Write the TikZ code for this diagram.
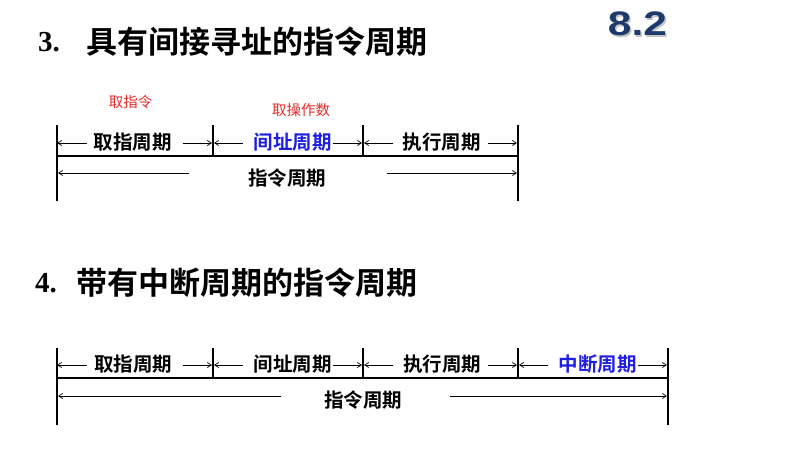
\documentclass[tikz,border=0pt]{standalone}
\usepackage{fontspec}
\usetikzlibrary{arrows.meta}
\newfontfamily\cjk{Noto Sans CJK SC}
\newfontfamily\cjkbold{Noto Sans CJK SC Bold}
\newfontfamily\serifb{Liberation Serif}
\newfontfamily\arialf{Liberation Sans}
\definecolor{lblblue}{RGB}{30,30,225}
\definecolor{lblred}{RGB}{232,40,40}
\definecolor{numblue}{RGB}{30,58,108}
\tikzset{
  seglabel/.style={inner sep=0pt, font=\cjkbold\fontsize{19.5}{20}\selectfont},
  titlecjk/.style={inner sep=0pt, anchor=west, font=\cjkbold\fontsize{31}{32}\selectfont},
  titlenum/.style={inner sep=0pt, anchor=west, font=\serifb\bfseries\fontsize{29}{30}\selectfont},
  note/.style={inner sep=0pt, text=lblred, font=\cjk\fontsize{14.5}{15}\selectfont},
  numstyle/.style={inner sep=0pt, font=\arialf\bfseries\fontsize{34}{34}\selectfont},
  thickline/.style={line width=2.4pt},
  divline/.style={line width=2pt},
  arr/.style={line width=0.7pt, -{Straight Barb[length=4pt,width=5pt]}},
}
\begin{document}
\begin{tikzpicture}[x=1pt,y=-1pt]
\useasboundingbox (0,0) rectangle (789,465);

% heading number
\node[numstyle, text=gray!45] (numsh) at (639,25.5) {\scalebox{1.25}[1]{8.2}};
\node[numstyle, text=numblue] (num) at (637.5,24) {\scalebox{1.25}[1]{8.2}};

% ===== section 3 =====
\node[titlenum] (t3n) at (38,42) {3.};
\node[titlecjk] (t3) at (86,42) {具有间接寻址的指令周期};
\node[note] (n1) at (130.5,101.5) {取指令};
\node[note] (n2) at (301,110) {取操作数};

\coordinate (a0t) at (57,125); \coordinate (a0b) at (57,201); \coordinate (a0m) at (57,156);
\coordinate (a1t) at (213,125); \coordinate (a1m) at (213,156);
\coordinate (a2t) at (363,125); \coordinate (a2m) at (363,156);
\coordinate (a3t) at (518,125); \coordinate (a3b) at (518,201); \coordinate (a3m) at (518,156);

\draw[thickline] (a0t) -- (a0b);
\draw[thickline] (a3t) -- (a3b);
\draw[divline] (a1t) -- (a1m);
\draw[divline] (a2t) -- (a2m);
\draw[thickline] (a0m) -- (a3m);

\node[seglabel] (s1) at (132.5,142) {取指周期};
\node[seglabel, text=lblblue] (s2) at (292.5,142) {间址周期};
\node[seglabel] (s3) at (441.5,142) {执行周期};
\node[seglabel] (sall) at (287,178) {指令周期};

\coordinate (p1l) at (87,143); \coordinate (q1l) at (57,143);
\coordinate (p1r) at (183,143); \coordinate (q1r) at (212,143);
\coordinate (p2l) at (243,143); \coordinate (q2l) at (214,143);
\coordinate (p2r) at (333,143); \coordinate (q2r) at (362,143);
\coordinate (p3l) at (393,143); \coordinate (q3l) at (364,143);
\coordinate (p3r) at (488,143); \coordinate (q3r) at (517,143);
\draw[arr] (p1l) -- (q1l);
\draw[arr] (p1r) -- (q1r);
\draw[arr] (p2l) -- (q2l);
\draw[arr] (p2r) -- (q2r);
\draw[arr] (p3l) -- (q3l);
\draw[arr] (p3r) -- (q3r);
\coordinate (bl1) at (189,173); \coordinate (bl0) at (58,173);
\coordinate (br1) at (387,173); \coordinate (br0) at (517,173);
\draw[arr] (bl1) -- (bl0);
\draw[arr] (br1) -- (br0);

% ===== section 4 =====
\node[titlenum] (t4n) at (35,283) {4.};
\node[titlecjk] (t4) at (76,283) {带有中断周期的指令周期};

\coordinate (b0t) at (57,348); \coordinate (b0b) at (57,425); \coordinate (b0m) at (57,378);
\coordinate (b1t) at (213,348); \coordinate (b1m) at (213,378);
\coordinate (b2t) at (363,348); \coordinate (b2m) at (363,378);
\coordinate (b3t) at (518,348); \coordinate (b3m) at (518,378);
\coordinate (b4t) at (668,348); \coordinate (b4b) at (668,425); \coordinate (b4m) at (668,378);

\draw[thickline] (b0t) -- (b0b);
\draw[thickline] (b4t) -- (b4b);
\draw[divline] (b1t) -- (b1m);
\draw[divline] (b2t) -- (b2m);
\draw[divline] (b3t) -- (b3m);
\draw[thickline] (b0m) -- (b4m);

\node[seglabel] (u1) at (133,364) {取指周期};
\node[seglabel] (u2) at (292.5,364) {间址周期};
\node[seglabel] (u3) at (442,364) {执行周期};
\node[seglabel, text=lblblue] (u4) at (597.5,364) {中断周期};
\node[seglabel] (uall) at (363,400) {指令周期};

\coordinate (r1l) at (87,365); \coordinate (w1l) at (57,365);
\coordinate (r1r) at (183,365); \coordinate (w1r) at (212,365);
\coordinate (r2l) at (243,365); \coordinate (w2l) at (214,365);
\coordinate (r2r) at (333,365); \coordinate (w2r) at (362,365);
\coordinate (r3l) at (393,365); \coordinate (w3l) at (364,365);
\coordinate (r3r) at (488,365); \coordinate (w3r) at (517,365);
\coordinate (r4l) at (548,365); \coordinate (w4l) at (519,365);
\coordinate (r4r) at (638,365); \coordinate (w4r) at (667,365);
\draw[arr] (r1l) -- (w1l);
\draw[arr] (r1r) -- (w1r);
\draw[arr] (r2l) -- (w2l);
\draw[arr] (r2r) -- (w2r);
\draw[arr] (r3l) -- (w3l);
\draw[arr] (r3r) -- (w3r);
\draw[arr] (r4l) -- (w4l);
\draw[arr] (r4r) -- (w4r);
\coordinate (cl1) at (281,396); \coordinate (cl0) at (58,396);
\coordinate (cr1) at (450,396); \coordinate (cr0) at (667,396);
\draw[arr] (cl1) -- (cl0);
\draw[arr] (cr1) -- (cr0);
\end{tikzpicture}
\end{document}
